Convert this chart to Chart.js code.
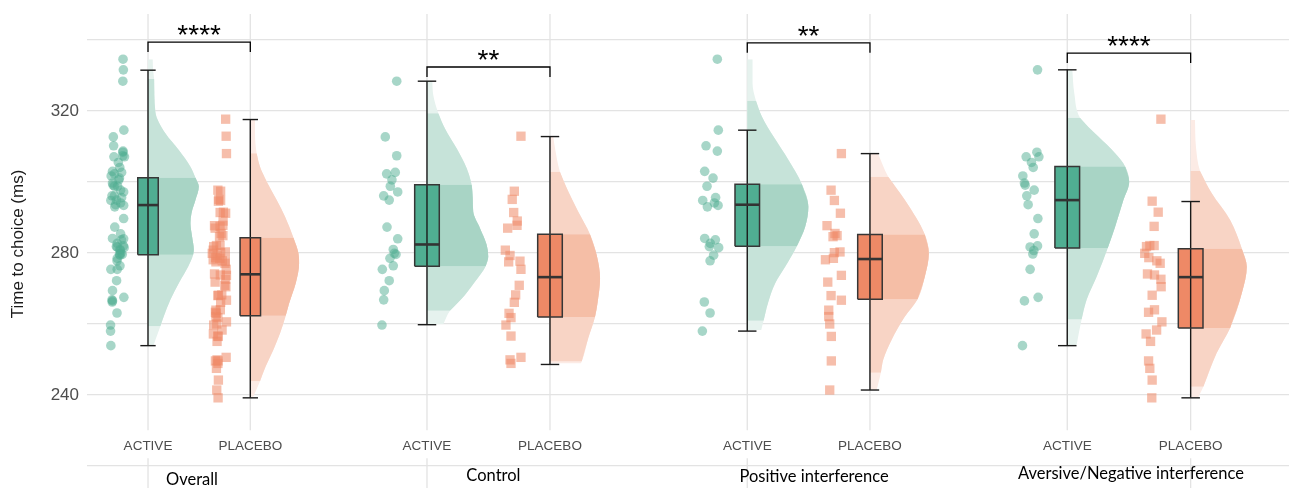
<!DOCTYPE html>
<html><head><meta charset="utf-8">
<script src="https://cdn.jsdelivr.net/npm/chart.js@4.4.0/dist/chart.umd.min.js"></script>
<style>html,body{margin:0;padding:0;background:#fff;}#wrap{width:1289px;height:488px;}</style>
</head><body><div id="wrap"><canvas id="c" width="1289" height="488"></canvas></div>
<script>
// ---------------- DATA ----------------
const panelTitles = ['Overall', 'Control', 'Positive interference', 'Aversive/Negative interference'];
const categories = ['ACTIVE', 'PLACEBO'];
const yGridValues = [220, 240, 260, 280, 300, 320, 340];
const yTickLabels = [240, 280, 320];
const sigLabels = ['****', '**', '**', '****'];
const sigBracketY = [339.4, 332.4, 339.2, 336.3];

// individual observations (ms)
const controlActive = [328.4, 312.7, 307.4, 302.3, 302.7, 300.6, 298.8, 296.1, 294.9, 297.2, 287.3, 284.0, 281.0, 279.6, 278.5, 279.9, 276.4, 275.4, 272.2, 269.4, 266.8, 259.7];
const controlPlacebo = [312.9, 297.4, 295.1, 291.4, 289.0, 287.8, 287.0, 280.8, 279.3, 277.5, 277.7, 275.4, 270.9, 268.2, 266.1, 263.0, 261.8, 259.7, 256.6, 250.6, 249.9, 248.9];
const positiveActive = [334.6, 314.6, 310.2, 308.7, 303.0, 301.1, 298.8, 294.8, 295.6, 294.1, 293.0, 293.4, 284.1, 283.7, 282.7, 281.8, 281.5, 279.4, 277.8, 266.2, 263.1, 258.0];
const positivePlacebo = [308.0, 297.7, 294.8, 291.2, 287.7, 285.5, 284.9, 284.6, 280.3, 280.1, 278.5, 278.1, 273.7, 271.8, 268.0, 266.7, 263.9, 262.1, 260.0, 256.5, 249.6, 241.4];
const aversiveActive = [331.6, 308.4, 307.1, 307.1, 305.5, 304.1, 301.7, 299.7, 299.1, 297.7, 296.1, 293.6, 289.7, 285.4, 281.7, 282.0, 280.7, 279.7, 275.4, 266.5, 267.5, 253.9];
const aversivePlacebo = [317.7, 294.6, 291.5, 287.5, 282.1, 281.8, 282.1, 279.9, 278.7, 277.8, 277.1, 274.1, 273.8, 272.6, 270.5, 268.1, 264.0, 263.3, 260.6, 258.3, 257.2, 255.1, 249.6, 247.5, 244.2, 239.2];
const overallActive = [].concat(controlActive, positiveActive, aversiveActive);
const overallPlacebo = [].concat(controlPlacebo, positivePlacebo, aversivePlacebo);

const controlActiveJitter = [-0.246, -0.339, -0.246, -0.328, -0.258, -0.285, -0.298, -0.352, -0.307, -0.238, -0.325, -0.238, -0.274, -0.252, -0.301, -0.266, -0.274, -0.363, -0.307, -0.347, -0.352, -0.366];
const controlPlaceboJitter = [-0.236, -0.290, -0.307, -0.295, -0.266, -0.268, -0.344, -0.363, -0.325, -0.336, -0.244, -0.236, -0.250, -0.279, -0.290, -0.333, -0.317, -0.358, -0.317, -0.236, -0.325, -0.317];
const positiveActiveJitter = [-0.244, -0.236, -0.336, -0.244, -0.347, -0.279, -0.328, -0.363, -0.258, -0.268, -0.325, -0.238, -0.347, -0.260, -0.301, -0.309, -0.233, -0.274, -0.303, -0.350, -0.303, -0.366];
const positivePlaceboJitter = [-0.233, -0.317, -0.290, -0.241, -0.350, -0.285, -0.268, -0.301, -0.244, -0.290, -0.298, -0.363, -0.233, -0.344, -0.317, -0.233, -0.336, -0.336, -0.328, -0.315, -0.315, -0.328];
const aversiveActiveJitter = [-0.241, -0.246, -0.333, -0.230, -0.290, -0.276, -0.360, -0.347, -0.341, -0.268, -0.328, -0.317, -0.238, -0.268, -0.301, -0.241, -0.271, -0.279, -0.301, -0.347, -0.236, -0.363];
const aversivePlaceboJitter = [-0.241, -0.312, -0.263, -0.296, -0.296, -0.358, -0.331, -0.372, -0.339, -0.274, -0.247, -0.350, -0.293, -0.241, -0.239, -0.312, -0.293, -0.341, -0.233, -0.276, -0.361, -0.325, -0.341, -0.331, -0.312, -0.315];
const overallActiveJitter = [].concat(controlActiveJitter, positiveActiveJitter, aversiveActiveJitter);
const overallPlaceboJitter = [].concat(controlPlaceboJitter, positivePlaceboJitter, aversivePlaceboJitter);

// box statistics [lower whisker, Q1, median, Q3, upper whisker]
const boxOverallActive = [253.9, 279.5, 293.5, 301.2, 331.5];
const boxOverallPlacebo = [239.2, 262.3, 274.0, 284.3, 317.6];
const boxControlActive = [259.8, 276.3, 282.4, 299.2, 328.4];
const boxControlPlacebo = [248.6, 262.0, 273.2, 285.3, 312.8];
const boxPositiveActive = [258.0, 281.9, 293.6, 299.4, 314.6];
const boxPositivePlacebo = [241.4, 267.0, 278.3, 285.2, 308.0];
const boxAversiveActive = [253.9, 281.4, 294.9, 304.4, 331.6];
const boxAversivePlacebo = [239.2, 258.9, 273.2, 281.2, 294.5];

// half-violin density outlines: value and half-width (category units)
const densOverallActiveY = [334.6, 331.5, 329.0, 319.8, 313.7, 309.0, 304.3, 301.2, 298.7, 294.9, 291.2, 288.4, 284.6, 280.9, 279.5, 276.1, 271.5, 266.8, 262.1, 259.4, 255.5, 254.1];
const densOverallActiveW = [0.046, 0.050, 0.060, 0.072, 0.170, 0.301, 0.415, 0.464, 0.497, 0.464, 0.425, 0.415, 0.431, 0.448, 0.441, 0.392, 0.301, 0.219, 0.154, 0.121, 0.072, 0.056];
const densOverallPlaceboY = [317.5, 313.7, 308.1, 304.3, 299.6, 294.9, 290.2, 284.3, 279.9, 277.1, 271.5, 265.8, 262.3, 257.4, 252.7, 248.0, 243.9, 239.5];
const densOverallPlaceboW = [0.046, 0.046, 0.062, 0.095, 0.170, 0.258, 0.340, 0.422, 0.471, 0.477, 0.444, 0.379, 0.346, 0.291, 0.225, 0.150, 0.095, 0.029];
const densControlActiveY = [328.5, 324.5, 319.4, 315.1, 309.5, 303.9, 299.2, 295.4, 291.6, 287.0, 282.3, 279.0, 276.3, 271.9, 268.2, 263.7, 259.9];
const densControlActiveW = [0.043, 0.051, 0.092, 0.146, 0.241, 0.323, 0.363, 0.372, 0.376, 0.431, 0.485, 0.498, 0.477, 0.390, 0.309, 0.187, 0.133];
const densControlPlaceboY = [312.7, 309.5, 302.9, 297.3, 291.6, 285.3, 279.4, 272.9, 266.3, 262.0, 256.0, 249.4, 248.9];
const densControlPlaceboW = [0.027, 0.041, 0.081, 0.149, 0.230, 0.325, 0.380, 0.407, 0.388, 0.366, 0.311, 0.258, 0.250];
const densPositiveActiveY = [334.6, 327.8, 322.9, 318.4, 312.8, 306.2, 299.4, 293.0, 287.4, 281.9, 276.1, 271.5, 265.8, 260.9, 258.3];
const densPositiveActiveW = [0.043, 0.043, 0.071, 0.120, 0.214, 0.336, 0.445, 0.498, 0.472, 0.404, 0.309, 0.228, 0.168, 0.133, 0.114];
const densPositivePlaceboY = [307.9, 301.5, 294.9, 285.2, 279.9, 273.3, 267.0, 262.1, 255.5, 249.9, 246.3, 241.4];
const densPositivePlaceboW = [0.067, 0.149, 0.285, 0.447, 0.480, 0.447, 0.388, 0.285, 0.176, 0.108, 0.089, 0.054];
const densAversiveActiveY = [331.6, 325.0, 318.1, 315.5, 312.8, 308.1, 304.4, 300.1, 294.9, 287.4, 281.4, 273.3, 266.8, 261.3, 254.1];
const densAversiveActiveW = [0.041, 0.057, 0.103, 0.171, 0.252, 0.388, 0.469, 0.502, 0.455, 0.388, 0.328, 0.238, 0.157, 0.116, 0.076];
const densAversivePlaceboY = [317.5, 309.9, 303.1, 296.8, 289.3, 281.2, 276.1, 268.7, 258.9, 251.8, 242.3, 239.4];
const densAversivePlaceboW = [0.035, 0.043, 0.076, 0.171, 0.320, 0.415, 0.455, 0.415, 0.320, 0.211, 0.103, 0.063];

// 95% interval of each group [2.5%, 97.5%]
const intOverallActive = [259.4, 329.0];
const intOverallPlacebo = [243.9, 308.1];
const intControlActive = [263.7, 319.4];
const intControlPlacebo = [249.4, 302.9];
const intPositiveActive = [260.9, 322.9];
const intPositivePlacebo = [246.3, 301.5];
const intAversiveActive = [261.3, 318.1];
const intAversivePlacebo = [242.3, 303.1];

// ---------------- LAYOUT / STYLE ----------------
const PANEL_X_RANGE = [[0.4037, 12.153], [-1.764, 8.008], [-4.381, 5.415], [-6.944, 2.797]];
const Y_RANGE = [213.8, 351.27];
const STRIP_X = [1.43, 1.54, 1.544, 1.516];
const STRIP_Y = [214.6, 215.9, 215.6, 216.3];
const CAT_LABEL_Y = 224.5;
const VGRID_TOP = 347.3, VGRID_BOTTOM = 230.1, VGRID_EXT_TOP = 222.2;
const VGRID_EXTEND = [0, 0, 0, 1];
const BRACKET_TICK = 2.8;
const BOX_HALF = 0.1, CAP_HALF = 0.075;
const GRID_COLOR = '#e3e3e3';
const STYLE = {
  active: {box: '#50ae92', dark: '#a8d4c5', mid: '#c6e3d9', light: '#e6f2ee', pt: 'rgba(80,174,146,0.5)', shape: 'circle', r: 4.8},
  placebo: {box: '#ee8966', dark: '#f5bea6', mid: '#f8d4c5', light: '#fcebe5', pt: 'rgba(238,137,102,0.55)', shape: 'rect', r: 6.6}
};

const groups = [
  {p: 0, cat: 1, k: 'active', v: overallActive, j: overallActiveJitter, box: boxOverallActive, dy: densOverallActiveY, dw: densOverallActiveW, iv: intOverallActive},
  {p: 0, cat: 2, k: 'placebo', v: overallPlacebo, j: overallPlaceboJitter, box: boxOverallPlacebo, dy: densOverallPlaceboY, dw: densOverallPlaceboW, iv: intOverallPlacebo},
  {p: 1, cat: 1, k: 'active', v: controlActive, j: controlActiveJitter, box: boxControlActive, dy: densControlActiveY, dw: densControlActiveW, iv: intControlActive},
  {p: 1, cat: 2, k: 'placebo', v: controlPlacebo, j: controlPlaceboJitter, box: boxControlPlacebo, dy: densControlPlaceboY, dw: densControlPlaceboW, iv: intControlPlacebo},
  {p: 2, cat: 1, k: 'active', v: positiveActive, j: positiveActiveJitter, box: boxPositiveActive, dy: densPositiveActiveY, dw: densPositiveActiveW, iv: intPositiveActive},
  {p: 2, cat: 2, k: 'placebo', v: positivePlacebo, j: positivePlaceboJitter, box: boxPositivePlacebo, dy: densPositivePlaceboY, dw: densPositivePlaceboW, iv: intPositivePlacebo},
  {p: 3, cat: 1, k: 'active', v: aversiveActive, j: aversiveActiveJitter, box: boxAversiveActive, dy: densAversiveActiveY, dw: densAversiveActiveW, iv: intAversiveActive},
  {p: 3, cat: 2, k: 'placebo', v: aversivePlacebo, j: aversivePlaceboJitter, box: boxAversivePlacebo, dy: densAversivePlaceboY, dw: densAversivePlaceboW, iv: intAversivePlacebo}
];

// ---------------- DATASETS ----------------
const datasets = [];
function lineDs(p, pts, color, width, order) {
  return {type: 'line', data: pts, xAxisID: 'x' + p, yAxisID: 'y', borderColor: color, borderWidth: width,
    pointRadius: 0, pointHoverRadius: 0, fill: false, tension: 0, order: order, borderCapStyle: 'butt'};
}
function band(g, lo, hi, color, order) {
  const pts = g.dy.map((v, i) => ({x: g.cat + g.dw[i], y: v}))
    .filter(pt => pt.y >= lo - 0.01 && pt.y <= hi + 0.01)
    .sort((a, b) => a.y - b.y);
  return {type: 'line', data: pts, xAxisID: 'x' + g.p, yAxisID: 'y', indexAxis: 'y',
    fill: {value: g.cat}, backgroundColor: color, borderWidth: 0, pointRadius: 0, pointHoverRadius: 0,
    cubicInterpolationMode: 'monotone', order: order};
}
groups.forEach(g => {
  const s = STYLE[g.k];
  const [wl, q1, med, q3, wh] = g.box;
  datasets.push(band(g, -Infinity, Infinity, s.light, 9));
  datasets.push(band(g, g.iv[0], g.iv[1], s.mid, 8));
  datasets.push(band(g, q1, q3, s.dark, 7));
  datasets.push({type: 'line', data: [{x: g.cat + BOX_HALF, y: q1}, {x: g.cat + BOX_HALF, y: q3}],
    xAxisID: 'x' + g.p, yAxisID: 'y', indexAxis: 'y', fill: {value: g.cat - BOX_HALF},
    backgroundColor: s.box, borderWidth: 0, pointRadius: 0, pointHoverRadius: 0, order: 6});
  datasets.push(lineDs(g.p, [{x: g.cat, y: wl}, {x: g.cat, y: wh}], '#1a1a1a', 1.4, 5));
  datasets.push(lineDs(g.p, [{x: g.cat - CAP_HALF, y: wl}, {x: g.cat + CAP_HALF, y: wl}], '#1a1a1a', 1.4, 5));
  datasets.push(lineDs(g.p, [{x: g.cat - CAP_HALF, y: wh}, {x: g.cat + CAP_HALF, y: wh}], '#1a1a1a', 1.4, 5));
  datasets.push(lineDs(g.p, [{x: g.cat - BOX_HALF, y: q1}, {x: g.cat - BOX_HALF, y: q3}, {x: g.cat + BOX_HALF, y: q3},
    {x: g.cat + BOX_HALF, y: q1}, {x: g.cat - BOX_HALF, y: q1}], '#363636', 1.5, 4));
  datasets.push(lineDs(g.p, [{x: g.cat - BOX_HALF, y: med}, {x: g.cat + BOX_HALF, y: med}], '#333333', 2.6, 3));
  datasets.push({type: 'line', showLine: false, data: g.v.map((v, i) => ({x: g.cat + g.j[i], y: v})),
    xAxisID: 'x' + g.p, yAxisID: 'y', pointStyle: s.shape, pointRadius: s.r, pointHoverRadius: s.r,
    pointBackgroundColor: s.pt, pointBorderWidth: 0, borderWidth: 0, order: 1});
});
sigBracketY.forEach((b, p) => {
  datasets.push(lineDs(p, [{x: 1, y: b - BRACKET_TICK}, {x: 1, y: b}, {x: 2, y: b}, {x: 2, y: b - BRACKET_TICK}], '#000000', 1.3, 2));
});

// ---------------- SCALES ----------------
const scales = {
  y: {
    type: 'linear', position: 'left', min: Y_RANGE[0], max: Y_RANGE[1], bounds: 'data',
    afterBuildTicks(s) { s.ticks = yGridValues.map(v => ({value: v})); },
    afterFit(s) { s.width = 87; s.paddingTop = 0; s.paddingBottom = 0; },
    ticks: {padding: 8, color: '#4d4d4d',
      font: {family: 'Liberation Sans', size: 17},
      callback: v => (yTickLabels.includes(v) ? String(v) : '')},
    grid: {color: GRID_COLOR, lineWidth: 1.3, drawTicks: false},
    border: {display: false},
    title: {display: true, text: 'Time to choice (ms)', color: '#1a1a1a',
      font: {family: 'Liberation Sans', size: 17}, padding: {top: 8, bottom: 0}}
  }
};
PANEL_X_RANGE.forEach((r, p) => {
  scales['x' + p] = {type: 'linear', axis: 'x', position: 'bottom', display: false, min: r[0], max: r[1], bounds: 'data'};
});

// ---------------- DECORATION PLUGIN ----------------
const decor = {
  id: 'decor',
  beforeDatasetsDraw(chart) {
    const ctx = chart.ctx, ys = chart.scales.y;
    ctx.save();
    ctx.strokeStyle = GRID_COLOR; ctx.lineWidth = 1.3;
    for (let p = 0; p < panelTitles.length; p++) {
      const xs = chart.scales['x' + p];
      categories.forEach((c, j) => {
        const px = xs.getPixelForValue(j + 1);
        ctx.beginPath();
        ctx.moveTo(px, ys.getPixelForValue(VGRID_TOP));
        ctx.lineTo(px, ys.getPixelForValue(VGRID_BOTTOM));
        if (VGRID_EXTEND[p] === j) {
          ctx.moveTo(px, ys.getPixelForValue(VGRID_EXT_TOP));
          ctx.lineTo(px, ys.getPixelForValue(Y_RANGE[0]));
        }
        ctx.stroke();
      });
    }
    ctx.restore();
  },
  afterDatasetsDraw(chart) {
    const ctx = chart.ctx, ys = chart.scales.y;
    ctx.save();
    ctx.textAlign = 'center';
    ctx.textBaseline = 'alphabetic';
    for (let p = 0; p < panelTitles.length; p++) {
      const xs = chart.scales['x' + p];
      ctx.fillStyle = '#4d4d4d';
      ctx.font = '13.5px "Liberation Sans", Arial, sans-serif';
      categories.forEach((c, j) => ctx.fillText(c, xs.getPixelForValue(j + 1), ys.getPixelForValue(CAT_LABEL_Y)));
      ctx.fillStyle = '#000000';
      ctx.font = '16.5px Lato, "Open Sans", sans-serif';
      ctx.fillText(panelTitles[p], xs.getPixelForValue(STRIP_X[p]), ys.getPixelForValue(STRIP_Y[p]));
      ctx.font = '28px "Liberation Sans", Arial, sans-serif';
      ctx.fillText(sigLabels[p], xs.getPixelForValue(1.5), ys.getPixelForValue(sigBracketY[p]) + 2);
    }
    ctx.restore();
  }
};

new Chart(document.getElementById('c'), {
  type: 'line',
  data: {datasets},
  options: {
    responsive: false, animation: false, devicePixelRatio: 1, events: [],
    layout: {padding: 0, autoPadding: false},
    plugins: {legend: {display: false}, tooltip: {enabled: false}},
    scales
  },
  plugins: [decor]
});
</script></body></html>
